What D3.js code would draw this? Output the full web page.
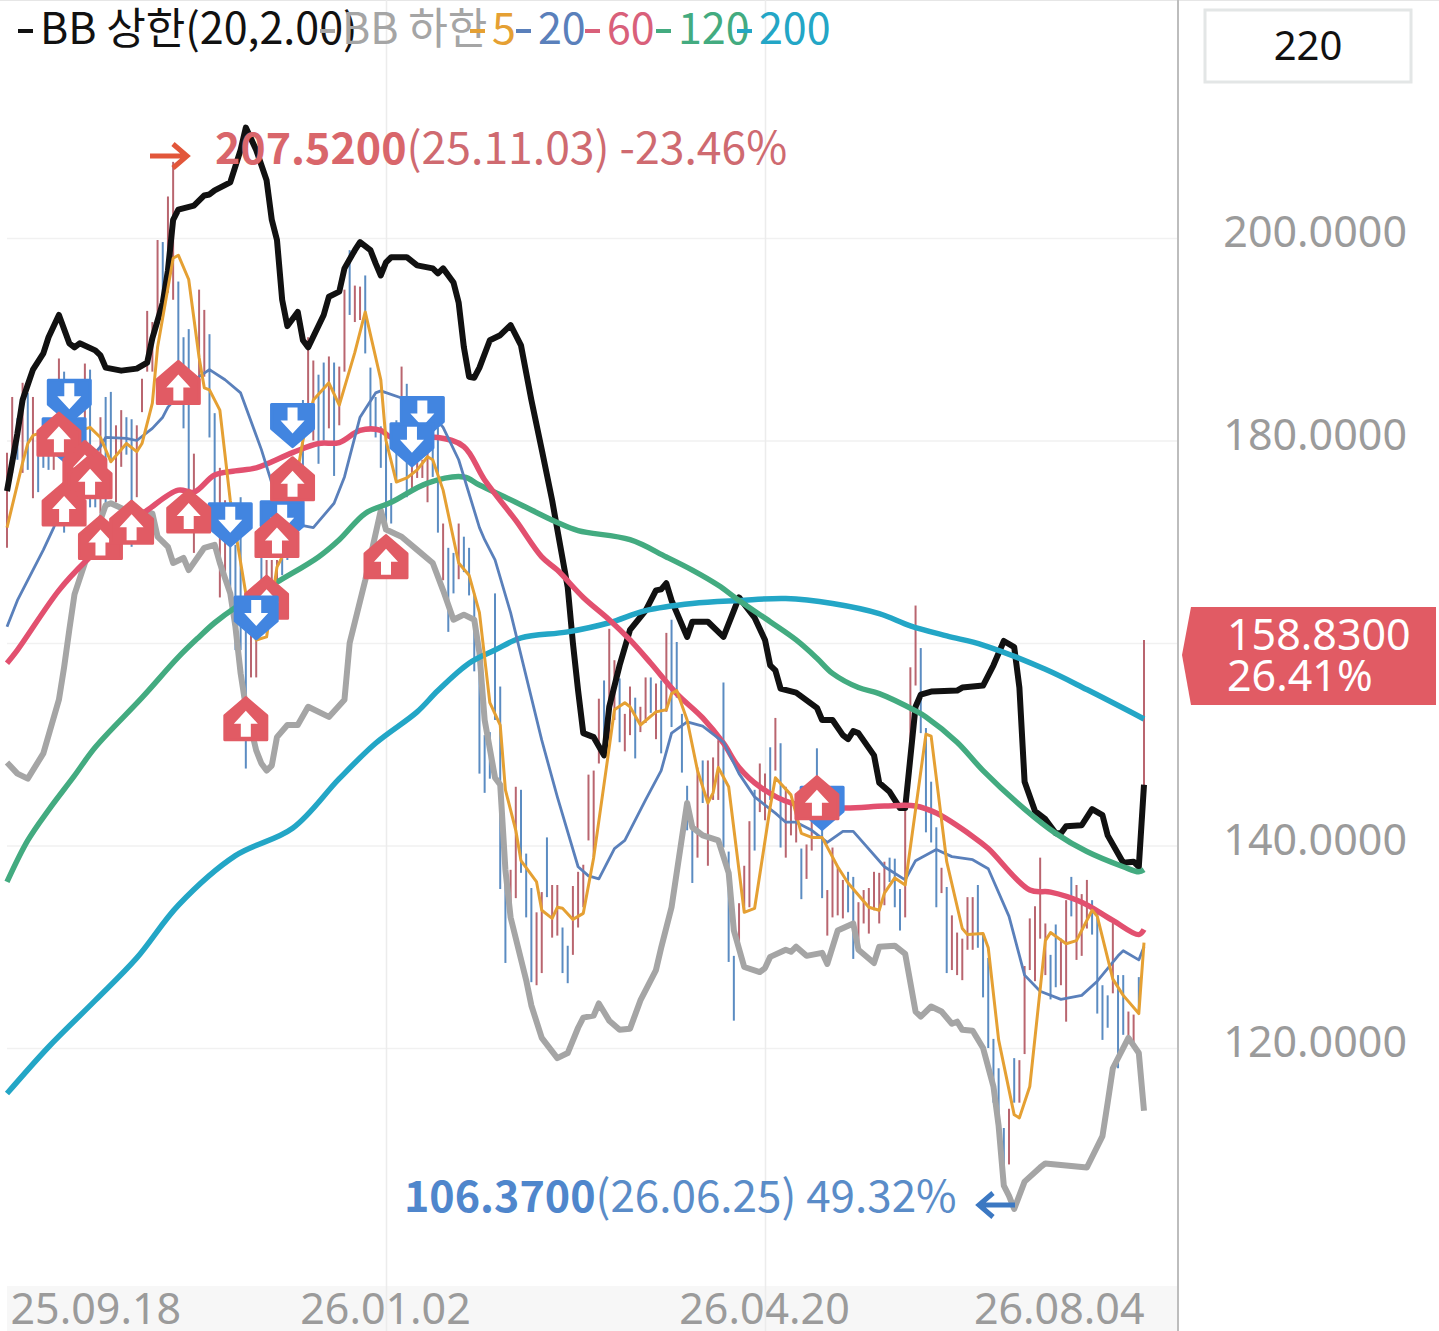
<!DOCTYPE html>
<html>
<head>
<meta charset="utf-8">
<style>
body { margin: 0; background: #fff; }
text { font-family: "Noto Sans CJK KR", "Noto Sans", sans-serif; }
</style>
<script src="https://cdn.jsdelivr.net/npm/d3@7"></script>
</head>
<body>
<svg id="chart" width="1439" height="1331"></svg>
<script>
// candles, one per trading day (day 0 .. 219)
const candleHigh = [
178.8,184.3,182.2,185.7,184.7,184.3,180.7,179.4,179.4,180,
188.1,186.8,184,183,180,187.6,187,176.1,182.3,184.3,
184.8,181.5,183,182.3,182.1,181.5,186.1,192.8,191.7,199.8,
199.6,204.1,207.52,195.7,190.2,191,178.7,194.9,192.9,190.5,
182.7,177.3,174.1,171.1,169.7,174.4,164.2,161,161,169.2,
168.2,168.2,168.2,172.1,173.6,175.1,177.1,184,190.2,187.9,
186.5,187.7,188.3,187.7,187.3,194.9,198.8,195.3,195.2,196.3,
187.2,184.3,181.4,180.3,175.8,182,187.3,185.6,178.1,178.1,
178.1,178.8,179.7,181.3,171.8,169.4,168.9,171.8,170.5,169.4,
164.9,157.5,150.9,151.2,164.9,155.7,137.9,137.6,145.8,145.5,
139.2,135.8,133.4,135.4,140.8,136.1,136.1,131.9,130.1,136,
137.4,138.1,147,147.4,154.5,156.3,161.4,158.3,156.5,153,
155.7,154.6,153.7,156.6,156.6,156,156.3,161,162.3,160.1,
153,145.9,142.3,147.7,148.4,148.4,148.7,150.4,156.1,139.4,
129.1,134.3,138,142.4,145.5,148.1,147.1,149.7,152.6,150.1,
145.8,144.5,144.8,139.7,140.1,144.5,149.6,142.8,135.6,139.8,
137.9,136.6,137.4,136.9,134.4,135.6,135.8,137.4,137.3,138.4,
138.8,138.7,135.7,145.2,157.6,163.7,159.5,151.6,146.3,141.8,
137.8,135.9,133.1,131.4,130.8,134.9,134.9,136.1,131.2,128.9,
120.9,118,112.1,114,119,118.8,128.1,132.8,134,138.8,
132.3,129.2,132.2,130.8,134.6,136.9,136.1,135.2,136.6,134.6,
133.4,126.2,125.2,132.4,127.2,127.2,123.6,123.3,127,160.3]
const candleLow = [
169.4,176.8,178.1,176.8,177.1,174.3,174.9,177.3,177.1,177.1,
179.4,170.9,176.1,176.1,175.1,179.4,173.4,173.4,172.8,173.1,
177.8,173.9,177.4,178.6,169.5,174.4,182.8,186.8,186.8,191.9,
193.6,194.6,193.9,187,181.2,172.8,168.9,186,186.3,180.3,
172.8,164.5,166.2,164.7,159.3,159.3,147.6,156.6,156.6,161.3,
164.2,164.2,165.7,166.7,168.2,168.7,170.7,177.1,183.7,180,
177.7,180,181.2,176.5,181.5,186.8,192.4,191.7,191.9,188.6,
181.3,180.3,177.3,171.3,171.8,176.1,181.7,174.4,175.3,176.3,
176.3,173.9,176.4,170.9,166.2,161.1,164.9,166.3,167,164.7,
157.2,147.1,145.2,146.6,152.4,135.7,128.4,132.3,134.8,137.3,
132.9,126.5,126.2,127.4,134.9,130.9,131.1,127.4,126.4,129.2,
131.9,133.9,140.5,138.8,148.1,149.1,150.4,152.4,150.2,149.3,
150.9,148.6,151.2,152.1,153.1,150.5,149.1,153.2,151.7,154.6,
147.2,141.5,136.3,138.8,144.2,138,144.5,144.5,139.8,128.5,
122.7,129.4,133.4,133.9,139.5,143.3,142.5,144.5,147.4,139.8,
138.8,141,140.3,134.7,136.7,139.5,143.5,134.8,131.1,132.9,
133.1,132.8,133.4,128.8,129.5,132.3,131.3,133.6,132.3,134.1,
136.4,133.9,131.6,132.9,149.4,155.8,151.1,141.3,140.3,133.9,
135.3,127.4,127.7,127.2,126.7,129.7,129.7,129.9,125,120,
114.6,112.3,106.37,108.5,114.6,114.6,119.4,127.7,126.6,130.8,
127.2,124.8,126,126.2,122.6,133,128.7,129.1,131.8,131.2,
123.4,120.8,122,125.4,118,121.3,120.5,120,123.4,143.4]
const candleDir = ('RRBRBRBBBR' + 'RBBRBRBBRB' + 'BRRBBRRRRR' + 'BRRBBBRRRB' + 'BRRBBBBRRB' +
    'RRRBBRRBRR' + 'BBRBRRBRRB' + 'BBBBBBRBRR' + 'RRBBRBBRBB' + 'BBBBBBBRRB' +
    'BBRRBRRBBR' + 'RRRRRBRRBR' + 'RBRRBRBRBB' + 'BBBRBRRRBB' + 'BRRRBRRBRB' +
    'RRRBRRBBRR' + 'RRBBRRRRRR' + 'BBBRRRBBBB' + 'RBRRRRRBBB' + 'BBBRBRRRRR' +
    'RBBRRBRRRB' + 'BBBRBBRRBR').split('')

// line readings as [day, price]
const bbUpper = [[0,175],[2,180.7],[3,184],[4,185.5],[5,187],[7,188.6],[8,190.2],[10,192.4],[12,189.6],[13,189.2],[14,189.6],[17,188.9],[18,188.4],[19,187.2],[22,186.9],[25,187.1],[27,187.7],[28,190.1],[30,193.6],[31,196.8],[32,201.8],[33,202.8],[36,203.2],[38,204.2],[39,204.3],[40,204.7],[43,205.5],[45,208.7],[46,210.9],[48,208.7],[50,205.7],[51,201.8],[52,199.8],[53,193.9],[54,191.3],[56,192.7],[57,189.9],[58,189.2],[61,192.4],[62,194.2],[64,194.7],[65,197],[67,198.8],[68,199.6],[70,198.8],[71,197.5],[72,196.3],[73,197.6],[74,198.1],[77,198.1],[79,197.3],[82,197],[83,196.5],[84,197],[86,195.6],[87,193.6],[88,189.2],[89,186.3],[90,186.2],[91,187.2],[93,189.9],[95,190.4],[97,191.4],[99,189.4],[101,184],[103,179.1],[105,174.1],[106,171.2],[108,165.5],[109,160],[110,155.3],[111,151.1],[113,150.7],[115,148.9],[116,153.7],[118,157.8],[120,161.3],[123,163.2],[125,165.2],[126,165.3],[127,165.9],[128,164.2],[131,160.6],[132,162.1],[135,162.1],[138,160.6],[140,163.2],[141,164.5],[144,162.5],[146,160.3],[147,157.8],[148,157.3],[149,155.5],[152,155.1],[156,153.6],[157,152.4],[159,152.4],[161,150.9],[162,150.5],[163,151.3],[164,151.1],[167,148.9],[168,146.2],[170,145.3],[172,143.7],[173,143.7],[175,153.7],[176,154.9],[178,155.2],[183,155.3],[184,155.6],[188,155.8],[190,157.8],[192,160.2],[194,159.6],[195,155.6],[196,146.3],[198,143.4],[200,142.6],[202,141.2],[203,141.2],[204,141.9],[207,142],[209,143.6],[211,143],[212,141],[215,138.3],[217,138.4],[218,137.9],[219,146]]
const bbLower = [[0,148.2],[2,147.1],[4,146.6],[7,149.1],[10,154.4],[11,157.6],[12,161.3],[13,164.8],[15,167.9],[17,170.7],[19,173.6],[20,173.8],[23,173.1],[28,172.8],[29,170.5],[31,169.5],[32,167.9],[34,168.4],[35,167.2],[38,169.4],[40,169.7],[41,167.9],[43,164.9],[44,161.6],[45,157],[46,153.7],[48,149.4],[49,148.1],[50,147.4],[51,147.9],[52,150.7],[54,151.9],[56,151.9],[58,153.7],[62,152.7],[65,154.4],[66,160],[69,166.2],[72,173.1],[73,171.2],[76,170.5],[79,169.2],[82,167.9],[84,165.2],[86,162.3],[88,162.8],[90,162.3],[91,159],[92,152.4],[94,146.7],[95,146],[96,137.6],[97,132.9],[100,126.7],[101,124.2],[103,121],[106,119],[108,119.5],[110,122],[111,123],[113,123.2],[114,124.4],[116,122.7],[118,121.8],[120,121.9],[122,124.7],[125,127.7],[126,129.9],[128,133.9],[131,144.2],[132,141.8],[134,141],[137,140.5],[139,137.3],[140,131.6],[142,128],[145,127.5],[146,127.9],[147,129],[150,129.7],[151,129.5],[152,130],[154,129.1],[157,129.4],[158,128.3],[160,131.6],[163,132.3],[164,129.7],[167,128.4],[168,130],[171,130.1],[173,129.3],[175,123.6],[176,123.1],[178,124.1],[180,123.6],[182,122.4],[183,122.6],[184,121.8],[186,121.7],[188,120],[190,116.2],[191,112.3],[192,106.4],[193,105.4],[194,104.1],[196,106.8],[199,108.2],[200,108.6],[208,108.2],[211,111.3],[212,114.6],[213,118],[216,121],[218,119.5],[219,113.8]]
const ma5 = [[0,171.4],[3,177.8],[4,179.7],[5,180.5],[9,181.2],[13,180.8],[16,181.3],[18,180.3],[20,177.9],[23,179.7],[25,178.9],[26,179.7],[28,183.7],[29,189.2],[32,198],[33,198.3],[35,195.9],[37,188.2],[38,185.2],[39,185],[41,183],[43,174.1],[46,164.9],[48,160.3],[50,160.6],[52,167.5],[53,168.5],[55,174.1],[57,180],[59,184],[62,185.7],[64,183.5],[67,188.7],[69,192.7],[72,186],[73,180],[75,175.9],[77,176.3],[79,177.1],[81,178.4],[82,178.1],[84,175.1],[87,167.9],[89,166.7],[91,163],[93,154.1],[95,151.9],[96,145.5],[98,141.5],[99,138.5],[102,136.4],[103,133.6],[105,132.8],[106,133.9],[107,133.8],[109,132.7],[111,133.3],[113,138.8],[116,149.7],[117,153.4],[119,154.1],[120,153.7],[122,151.9],[125,153.2],[127,153.4],[128,155],[129,155.3],[131,152.4],[133,147.4],[135,144.2],[136,145.2],[137,147.7],[139,145.8],[142,133.4],[144,133.8],[147,143.8],[148,146.7],[151,145],[153,141.2],[155,140.8],[157,140.8],[160,137.9],[162,136.3],[166,133.9],[168,133.6],[169,135.3],[171,136.8],[173,136.1],[177,151],[178,150.8],[181,138.4],[184,131.8],[185,131.2],[188,131.3],[189,129.9],[191,120.8],[194,113.4],[195,113.1],[197,116.2],[200,130.6],[201,131.4],[204,130.3],[206,130.6],[209,133.6],[210,133],[213,126.8],[215,125.2],[218,123.4],[219,130.4]]
const ma20 = [[0,161.6],[2,164.2],[7,169.2],[9,171.4],[12,175.1],[15,177.6],[18,179.4],[19,180.3],[23,180.2],[25,180],[28,181.2],[30,182.3],[31,183.3],[34,185],[37,186.3],[39,187],[42,186],[45,184.7],[49,179.1],[51,175.8],[53,173.1],[57,171.6],[59,171.4],[63,173.8],[65,176.4],[68,182.3],[71,184.7],[72,184.9],[76,184.2],[80,183.8],[84,181.3],[87,178.1],[91,171.4],[92,170.2],[94,168.2],[97,163],[103,150.4],[106,144.8],[110,137.9],[112,137],[114,136.7],[117,139.7],[119,140.5],[123,144.5],[126,147.4],[128,151.1],[131,152.2],[134,151.8],[138,150.2],[141,147.1],[144,144.8],[148,143.2],[150,142.3],[152,142.3],[155,141.5],[158,140.3],[161,141.4],[163,141.4],[169,137.9],[173,136.6],[175,138.5],[179,139.6],[182,138.9],[186,138.6],[189,137.7],[193,133],[196,127.2],[199,125.6],[203,124.8],[207,125.2],[210,126.6],[214,129.1],[215,129.6],[218,128.7],[219,130]]
const ma60 = [[0,158],[2,159.3],[10,165.2],[15,168],[21,170.7],[27,173.1],[33,175.1],[36,174.9],[40,176.6],[44,177],[48,177.3],[55,178.8],[60,179.7],[64,179.8],[68,181],[72,181],[74,180.3],[83,180.3],[88,179.4],[92,176.1],[98,172.1],[103,168.5],[106,167.2],[111,164.5],[116,162.3],[120,160.3],[124,158],[129,155],[134,152.6],[138,150.1],[141,147.7],[145,145.8],[151,144.2],[161,143.7],[169,143.9],[175,143.9],[179,143.2],[186,140.9],[189,139.7],[197,135.6],[201,135.4],[207,134.4],[213,132.6],[218,131.2],[219,131.7]]
const ma120 = [[0,136.4],[4,140.5],[8,143.5],[13,146.9],[17,149.7],[26,154.6],[33,158.6],[37,160.6],[40,162],[44,163.5],[52,166],[60,168.5],[64,170.2],[69,172.8],[74,173.9],[81,175.8],[88,176.4],[91,175.6],[98,173.9],[106,171.9],[110,171.1],[120,170.2],[127,168.5],[132,167.2],[137,165.7],[141,164.2],[147,162.1],[152,160.3],[156,158.5],[159,157],[164,155.6],[168,155],[175,153.3],[177,152.7],[183,150.2],[188,147.4],[196,143.6],[202,141.2],[208,139.4],[215,137.9],[218,137.4],[219,137.6]]
const ma200 = [[0,115.5],[8,120.1],[17,124.7],[25,128.9],[33,134.1],[44,139],[55,141.7],[64,146.6],[71,150.1],[79,153.2],[83,155.3],[89,158],[94,159.3],[99,160.5],[108,161.1],[116,162],[123,163.2],[132,163.9],[141,164.2],[150,164.4],[159,163.9],[168,162.9],[174,161.7],[181,160.7],[188,159.8],[200,157.4],[208,155.4],[219,152.5]]

// buy / sell flags, in drawing order
const signalDay = [11,12,43,55,53,80,78,157,33,10,15,16,11,18,24,35,55,52,50,73,46,156,48]
const signalPrice = [177.9,181.7,169.5,179.3,169.7,180,177.4,141.5,187.9,182.8,180,178.6,175.9,172.6,174.1,175.2,178.4,172.8,166.7,170.7,154.7,146.9,160.3]
const signalType = ['sell','sell','sell','sell','sell','sell','sell','sell','buy','buy','buy','buy','buy','buy','buy','buy','buy','buy','buy','buy','buy','buy','sell']

const priceTicks = [200,180,160,140,120]
const dateTickDays = [0,73,146,219]
const dateTickLabels = ['25.09.18','26.01.02','26.04.20','26.08.04']

const legendNames = ['BB 상한(20,2.00)','BB 하한','5','20','60','120','200']
const legendStart = [18,320,470,516,585,656,737]

const colours = {
    up: '#b9656f', down: '#5b8cc2',
    bbUpper: '#111111', bbLower: '#a5a5a5',
    ma5: '#e5a033', ma20: '#5a80bb', ma60: '#e2506f', ma120: '#43ab80', ma200: '#23a6c6',
    tag: '#e15b64', flagUp: '#e15b64', flagDown: '#4285e0', label: '#9b9b9b', grid: '#f1f1f1'
}
const legendColours = [colours.bbUpper, colours.bbLower, colours.ma5, colours.ma20, '#d9607a', colours.ma120, colours.ma200]
const latin = '"Noto Sans", sans-serif'

const svg = d3.select('#chart')
const xScale = d3.scaleLinear().domain([0, 219]).range([7, 1144])
const yScale = d3.scaleLinear().domain([120, 200]).range([1048, 238])

// plain frame bits
svg.append('rect').attr('x', 7).attr('y', 1286).attr('width', 1171).attr('height', 45).attr('fill', '#f7f7f7')
svg.append('line').attr('x1', 0).attr('x2', 1439).attr('y1', 0.5).attr('y2', 0.5).attr('stroke', '#e6e6e6')

// y axis with gridlines
const yAxis = svg.append('g')
    .attr('transform', 'translate(1178,0)')
    .call(d3.axisRight(yScale).tickValues(priceTicks).tickFormat(d3.format('.4f')).tickSize(0))
yAxis.select('.domain').remove()
yAxis.selectAll('text')
    .attr('x', 229).attr('dy', -3)
    .attr('dominant-baseline', 'middle')
    .attr('text-anchor', 'end')
    .style('font-size', '43px').style('font-family', latin)
    .attr('fill', colours.label)
yAxis.selectAll('.tick').append('line')
    .attr('x1', -1171).attr('x2', 0)
    .attr('stroke', colours.grid).attr('stroke-width', 1.5)

// x axis, end labels kept inside the plot
const xAxis = svg.append('g')
    .attr('transform', 'translate(0,1286)')
    .call(d3.axisBottom(xScale).tickValues(dateTickDays).tickFormat((d, i) => dateTickLabels[i]).tickSize(0))
xAxis.select('.domain').remove()
xAxis.selectAll('text')
    .attr('y', 0).attr('dy', 38)
    .attr('text-anchor', (d, i) => i == 0 ? 'start' : i == 3 ? 'end' : 'middle')
    .attr('x', (d, i) => i == 0 ? 3 : i == 3 ? 0 : -1)
    .style('font-size', '43px').style('font-family', latin)
    .attr('fill', colours.label)
xAxis.selectAll('.tick').append('line')
    .attr('y1', -1286).attr('y2', 45)
    .attr('stroke', (d, i) => i == 1 || i == 2 ? '#ececec' : 'none')
    .attr('stroke-width', 1.5)

svg.append('line').attr('x1', 1178).attr('x2', 1178).attr('y1', 0).attr('y2', 1331)
    .attr('stroke', '#bdbdbd').attr('stroke-width', 2)

// candles
svg.append('g').selectAll('line')
    .data(d3.range(candleHigh.length))
    .join('line')
    .attr('x1', d => xScale(d)).attr('x2', d => xScale(d))
    .attr('y1', d => yScale(candleHigh[d])).attr('y2', d => yScale(candleLow[d]))
    .attr('stroke', d => candleDir[d] == 'R' ? colours.up : colours.down)
    .attr('stroke-width', 2)

// indicator lines, the long averages are sparser so they get a smooth curve
const lineGen = d3.line().x(d => xScale(d[0])).y(d => yScale(d[1]))

function drawLine(values, colour, width, curve) {
    svg.append('path')
        .attr('d', lineGen.curve(curve)(values))
        .attr('fill', 'none')
        .attr('stroke', colour)
        .attr('stroke-width', width)
        .attr('stroke-linejoin', 'round')
        .attr('stroke-linecap', 'butt')
}
const smooth = d3.curveCatmullRom.alpha(0.5)
drawLine(bbLower, colours.bbLower, 6, d3.curveLinear)
drawLine(bbUpper, colours.bbUpper, 6, d3.curveLinear)
drawLine(ma200, colours.ma200, 5.5, smooth)
drawLine(ma120, colours.ma120, 5.5, smooth)
drawLine(ma60, colours.ma60, 5.5, smooth)
drawLine(ma20, colours.ma20, 2.8, d3.curveLinear)
drawLine(ma5, colours.ma5, 3, d3.curveLinear)

// flags: a house shape, tip on the reading
const flagUpPath = 'M0,1 L21,19 L21,43 L-21,43 L-21,19 Z'
const arrowUpPath = 'M0,14 L12,27 L5,27 L5,40 L-5,40 L-5,27 L-12,27 Z'
const flags = svg.append('g').selectAll('g')
    .data(d3.range(signalDay.length))
    .join('g')
    .attr('transform', d => {
        const x = xScale(signalDay[d]), y = yScale(signalPrice[d])
        return signalType[d] == 'buy' ? `translate(${x},${y})` : `translate(${x},${y}) scale(1,-1)`
    })
flags.append('path')
    .attr('d', flagUpPath)
    .attr('fill', d => signalType[d] == 'buy' ? colours.flagUp : colours.flagDown)
    .attr('stroke', d => signalType[d] == 'buy' ? colours.flagUp : colours.flagDown)
    .attr('stroke-width', 3)
    .attr('stroke-linejoin', 'round')
flags.append('path').attr('d', arrowUpPath).attr('fill', '#fff')

// high and low notes
const note = svg.append('g').style('font-family', latin)
note.append('text').attr('x', 215).attr('y', 164)
    .attr('fill', '#d9666b')
    .html('<tspan font-weight="700" font-size="43">207.5200</tspan><tspan fill="#cf6a70" font-size="44.5">(25.11.03) -23.46%</tspan>')
note.append('text').attr('x', 404).attr('y', 1212)
    .attr('fill', '#4f86cc')
    .html('<tspan font-weight="700" font-size="43">106.3700</tspan><tspan fill="#5a8cc8" font-size="44">(26.06.25) 49.32%</tspan>')

function arrow(x1, x2, y, colour) {
    const dir = x2 > x1 ? -1 : 1
    svg.append('path')
        .attr('d', `M${x1},${y} L${x2},${y} M${x2 + dir * 14},${y - 12} L${x2},${y} L${x2 + dir * 14},${y + 12}`)
        .attr('fill', 'none').attr('stroke', colour).attr('stroke-width', 5)
}
arrow(150, 187, 156, '#e2563a')
arrow(1015, 979, 1205, '#3c78c2')

// legend: a short dash, then the name
const legend = svg.append('g').selectAll('g')
    .data(legendNames)
    .join('g')
    .attr('transform', (d, i) => `translate(${legendStart[i]},0)`)
legend.append('rect')
    .attr('x', 0).attr('y', 29).attr('width', 15).attr('height', 4)
    .attr('fill', (d, i) => legendColours[i])
legend.append('text')
    .attr('x', 22).attr('y', 44)
    .attr('fill', (d, i) => legendColours[i])
    .style('font-size', '43px')
    .text(d => d)

// period box
svg.append('rect').attr('x', 1205).attr('y', 10).attr('width', 206).attr('height', 72)
    .attr('fill', '#fff').attr('stroke', '#e3e6e6').attr('stroke-width', 3)
svg.append('text').attr('x', 1308).attr('y', 60).attr('text-anchor', 'middle')
    .style('font-size', '40px').style('font-family', latin).attr('fill', '#111').text('220')

// current price tag
svg.append('path').attr('d', 'M1191,607 L1436,607 L1436,705 L1191,705 L1182,655 Z').attr('fill', colours.tag)
svg.append('text').attr('x', 1227).attr('y', 650).attr('fill', '#fff')
    .style('font-size', '43px').style('font-family', latin).text('158.8300')
svg.append('text').attr('x', 1227).attr('y', 691).attr('fill', '#fff')
    .style('font-size', '43px').style('font-family', latin).text('26.41%')
</script>
</body>
</html>
